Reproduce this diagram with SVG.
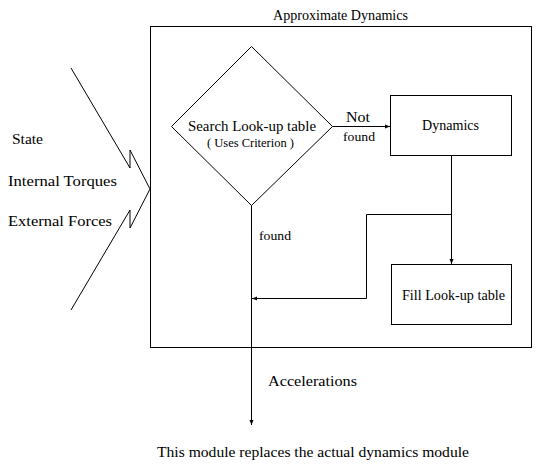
<svg xmlns="http://www.w3.org/2000/svg" width="543" height="475" viewBox="0 0 543 475">
<defs>
<style>
.ln{fill:none;stroke:#000;stroke-width:1}
.t{font-family:"Liberation Serif","Times New Roman",serif;fill:#000;font-size:14px}
.s{font-size:12px}
.f{font-size:13px}
</style>
<marker id="ah" markerWidth="6" markerHeight="6" refX="5" refY="3" orient="auto" markerUnits="userSpaceOnUse">
<path d="M0,1 L5,3 L0,5 Z" fill="#000"/>
</marker>
</defs>
<rect width="543" height="475" fill="#fff"/>
<g id="module">
<rect class="ln" x="150.5" y="26.5" width="381" height="321"/>
<text class="t" x="273" y="20" textLength="135" lengthAdjust="spacingAndGlyphs">Approximate Dynamics</text>
</g>
<g id="inputs">
<polyline class="ln" points="71,68 130,168 130,150 150,189"/>
<polyline class="ln" points="71,310 130,210 130,228 150,189"/>
<text class="t" x="12" y="144" textLength="31" lengthAdjust="spacingAndGlyphs">State</text>
<text class="t" x="8" y="186" textLength="109" lengthAdjust="spacingAndGlyphs">Internal Torques</text>
<text class="t" x="8" y="226" textLength="104" lengthAdjust="spacingAndGlyphs">External Forces</text>
</g>
<g id="search">
<polygon class="ln" points="251.5,46.5 332.5,126.5 251.5,205.5 171.5,126.5"/>
<text class="t" x="188" y="131" textLength="128" lengthAdjust="spacingAndGlyphs">Search Look-up table</text>
<text class="t s" x="207" y="147" textLength="87" lengthAdjust="spacingAndGlyphs">( Uses Criterion )</text>
</g>
<g id="dynamics">
<rect class="ln" x="390.5" y="95.5" width="121" height="60"/>
<text class="t" x="422" y="130" textLength="57" lengthAdjust="spacingAndGlyphs">Dynamics</text>
</g>
<g id="fill">
<rect class="ln" x="391.5" y="264.5" width="120" height="60"/>
<text class="t" x="402" y="300" textLength="103" lengthAdjust="spacingAndGlyphs">Fill Look-up table</text>
</g>
<g id="connectors">
<line class="ln" x1="332.5" y1="126.5" x2="390" y2="126.5" marker-end="url(#ah)"/>
<line class="ln" x1="451.5" y1="156" x2="451.5" y2="264" marker-end="url(#ah)"/>
<polyline class="ln" points="451.5,214.5 366.5,214.5 366.5,298.5 252,298.5" marker-end="url(#ah)"/>
<line class="ln" x1="251.5" y1="205.5" x2="251.5" y2="425" marker-end="url(#ah)"/>
<text class="t" x="346" y="122" textLength="24" lengthAdjust="spacingAndGlyphs">Not</text>
<text class="t f" x="343" y="141" textLength="32" lengthAdjust="spacingAndGlyphs">found</text>
<text class="t f" x="259" y="240" textLength="32" lengthAdjust="spacingAndGlyphs">found</text>
<text class="t" x="268" y="386" textLength="89" lengthAdjust="spacingAndGlyphs">Accelerations</text>
</g>
<text class="t" x="157" y="457" textLength="312" lengthAdjust="spacingAndGlyphs">This module replaces the actual dynamics module</text>
</svg>
